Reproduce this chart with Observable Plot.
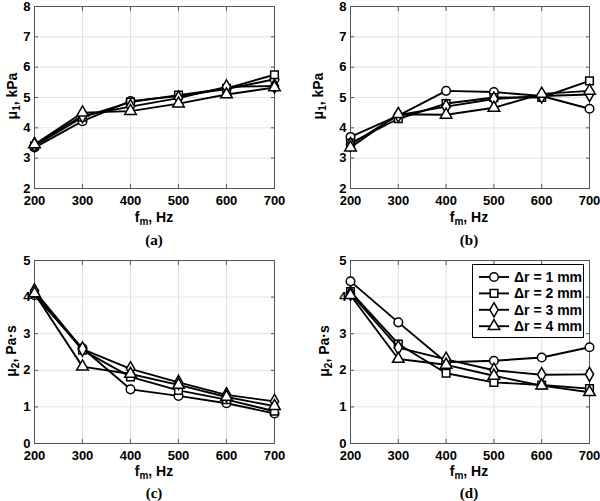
<!DOCTYPE html>
<html><head><meta charset="utf-8">
<script src="https://cdn.jsdelivr.net/npm/d3@7"></script>
<script src="https://cdn.jsdelivr.net/npm/@observablehq/plot@0.6"></script>
<style>
body{margin:0;background:#fff;}
#fig{position:relative;width:600px;height:501px;overflow:hidden;font-family:"Liberation Sans",Arial,sans-serif;background:#fff;}
.pl{position:absolute;}
.lbl{position:absolute;font-weight:bold;font-size:14px;white-space:nowrap;color:#000;transform:translate(-50%,-50%);line-height:1;}
.lbl sub{font-size:10px;vertical-align:-3px;line-height:0;}
.ylbl{transform:translate(-50%,-50%) rotate(-90deg);}
.cap{position:absolute;font-family:"Liberation Serif","Times New Roman",serif;font-weight:bold;font-size:15px;transform:translate(-50%,-50%);line-height:1;}
#legend{position:absolute;border:1px solid #000;background:#fff;}
</style></head><body><div id="fig"></div>
<script>
// ---- data ----
const freqs = [200, 300, 400, 500, 600, 700];
const seriesNames = ["Δr = 1 mm", "Δr = 2 mm", "Δr = 3 mm", "Δr = 4 mm"];
const symbolNames = ["circle", "square", "diamond", "triangle"];
// (a) mu1, kPa
const panelA = [
  [3.35, 4.22, 4.88, 5.05, 5.28, 5.60],
  [3.40, 4.35, 4.85, 5.08, 5.30, 5.75],
  [3.45, 4.40, 4.70, 4.98, 5.35, 5.38],
  [3.45, 4.50, 4.55, 4.80, 5.10, 5.33]
];
// (b) mu1, kPa
const panelB = [
  [3.70, 4.40, 5.22, 5.18, 5.05, 4.63],
  [3.50, 4.30, 4.80, 5.00, 5.00, 5.55],
  [3.45, 4.42, 4.70, 4.95, 5.05, 5.10],
  [3.35, 4.45, 4.43, 4.66, 5.12, 5.22]
];
// (c) mu2, Pa·s
const panelC = [
  [4.05, 2.60, 1.48, 1.30, 1.10, 0.82],
  [4.10, 2.55, 1.82, 1.45, 1.20, 0.88],
  [4.17, 2.58, 2.04, 1.67, 1.33, 1.15],
  [4.10, 2.10, 1.90, 1.60, 1.27, 1.02]
];
// (d) mu2, Pa·s
const panelD = [
  [4.43, 3.31, 2.22, 2.26, 2.35, 2.63],
  [4.15, 2.72, 1.92, 1.67, 1.60, 1.50],
  [4.10, 2.62, 2.30, 2.00, 1.88, 1.89],
  [4.05, 2.31, 2.15, 1.85, 1.58, 1.40]
];
const ticksMu1 = [2, 3, 4, 5, 6, 7, 8];
const ticksMu2 = [0, 1, 2, 3, 4, 5];

const fig = document.getElementById("fig");

function makePanel(data, yDomain, yTicks, opt) {
  const rows = [];
  data.forEach((vals, i) => vals.forEach((v, j) => rows.push({f: freqs[j], v, s: seriesNames[i]})));
  const marks = [
    Plot.gridX(freqs, {stroke: "#e2e2e2", strokeOpacity: 1, strokeWidth: 1}),
    Plot.gridY(yTicks, {stroke: "#e2e2e2", strokeOpacity: 1, strokeWidth: 1}),
    Plot.axisX(freqs, {anchor: "bottom", tickSize: 0, tickPadding: 7, label: null, fontSize: 13, fontWeight: "bold"}),
    Plot.axisY(yTicks, {anchor: "left", tickSize: 0, tickPadding: 4, label: null, fontSize: 13, fontWeight: "bold"}),
    Plot.axisX(freqs, {anchor: "bottom", tickSize: -4, text: null, label: null, stroke: "#555"}),
    Plot.axisX(freqs, {anchor: "top", tickSize: -4, text: null, label: null, stroke: "#555"}),
    Plot.axisY(yTicks, {anchor: "left", tickSize: -4, text: null, label: null, stroke: "#555"}),
    Plot.axisY(yTicks, {anchor: "right", tickSize: -4, text: null, label: null, stroke: "#555"}),
    Plot.frame({stroke: "#555", strokeWidth: 1})
  ];
  seriesNames.forEach((s) => {
    const sub = rows.filter(d => d.s === s);
    marks.push(Plot.line(sub, {x: "f", y: "v", stroke: "#000", strokeWidth: 1.9}));
    marks.push(Plot.dot(sub, {x: "f", y: "v", symbol: "s", r: 4.3, fill: "#fff", stroke: "#000", strokeWidth: 1.5}));
  });
  const p = Plot.plot({
    width: 300, height: opt.h,
    marginLeft: opt.ml, marginRight: opt.mr, marginTop: opt.mt, marginBottom: opt.mb,
    x: {domain: [200, 700]},
    y: {domain: yDomain},
    symbol: {domain: seriesNames, range: symbolNames},
    style: {fontFamily: "'Liberation Sans', Arial, sans-serif", fontSize: "13px", fontWeight: "bold", color: "#000", background: "transparent", overflow: "visible"},
    marks
  });
  p.classList.add("pl");
  p.style.left = opt.left + "px";
  p.style.top = opt.top + "px";
  fig.appendChild(p);
}

function addLabel(html, x, y, cls) {
  const d = document.createElement("div");
  d.className = cls;
  d.innerHTML = html;
  d.style.left = x + "px";
  d.style.top = y + "px";
  fig.appendChild(d);
}

makePanel(panelA, [2, 8], ticksMu1, {left: 0, top: 0, h: 250, ml: 34, mr: 26, mt: 6, mb: 62});
makePanel(panelB, [2, 8], ticksMu1, {left: 300, top: 0, h: 250, ml: 50, mr: 11, mt: 6, mb: 62});
makePanel(panelC, [0, 5], ticksMu2, {left: 0, top: 250, h: 251, ml: 34, mr: 26, mt: 10, mb: 58});
makePanel(panelD, [0, 5], ticksMu2, {left: 300, top: 250, h: 251, ml: 50, mr: 11, mt: 10, mb: 58});

addLabel("f<sub>m</sub>, Hz", 154, 217, "lbl");
addLabel("f<sub>m</sub>, Hz", 469, 217, "lbl");
addLabel("f<sub>m</sub>, Hz", 154, 471, "lbl");
addLabel("f<sub>m</sub>, Hz", 469, 471, "lbl");
addLabel("(a)", 154, 240, "cap");
addLabel("(b)", 469, 240, "cap");
addLabel("(c)", 154, 493, "cap");
addLabel("(d)", 469, 493, "cap");
addLabel("μ<sub>1</sub>, kPa", 12, 96, "lbl ylbl");
addLabel("μ<sub>1</sub>, kPa", 318, 96, "lbl ylbl");
addLabel("μ<sub>2</sub>, Pa·s", 11, 351, "lbl ylbl");
addLabel("μ<sub>2</sub>, Pa·s", 324, 351, "lbl ylbl");

// legend for panel (d)
const lg = document.createElement("div");
lg.id = "legend";
lg.style.left = "472px"; lg.style.top = "264px"; lg.style.width = "110px"; lg.style.height = "72px";
const ns = "http://www.w3.org/2000/svg";
const svg = document.createElementNS(ns, "svg");
svg.setAttribute("width", 110); svg.setAttribute("height", 72);
const symMap = {circle: d3.symbolCircle, square: d3.symbolSquare, diamond: d3.symbolDiamond, triangle: d3.symbolTriangle};
seriesNames.forEach((s, i) => {
  const cy = 12 + i * 16.4;
  const g = d3.select(svg).append("g");
  g.append("line").attr("x1", 6).attr("x2", 36).attr("y1", cy).attr("y2", cy).attr("stroke", "#000").attr("stroke-width", 1.9);
  g.append("path").attr("d", d3.symbol(symMap[symbolNames[i]], Math.PI * 4.3 * 4.3)()).attr("transform", `translate(21,${cy})`)
    .attr("fill", "#fff").attr("stroke", "#000").attr("stroke-width", 1.5);
  g.append("text").attr("x", 41).attr("y", cy).attr("dy", "0.36em").attr("font-family", "'Liberation Sans', Arial, sans-serif")
    .attr("font-size", 14).attr("font-weight", "bold").text(s);
});
lg.appendChild(svg);
fig.appendChild(lg);
</script>
</body></html>
